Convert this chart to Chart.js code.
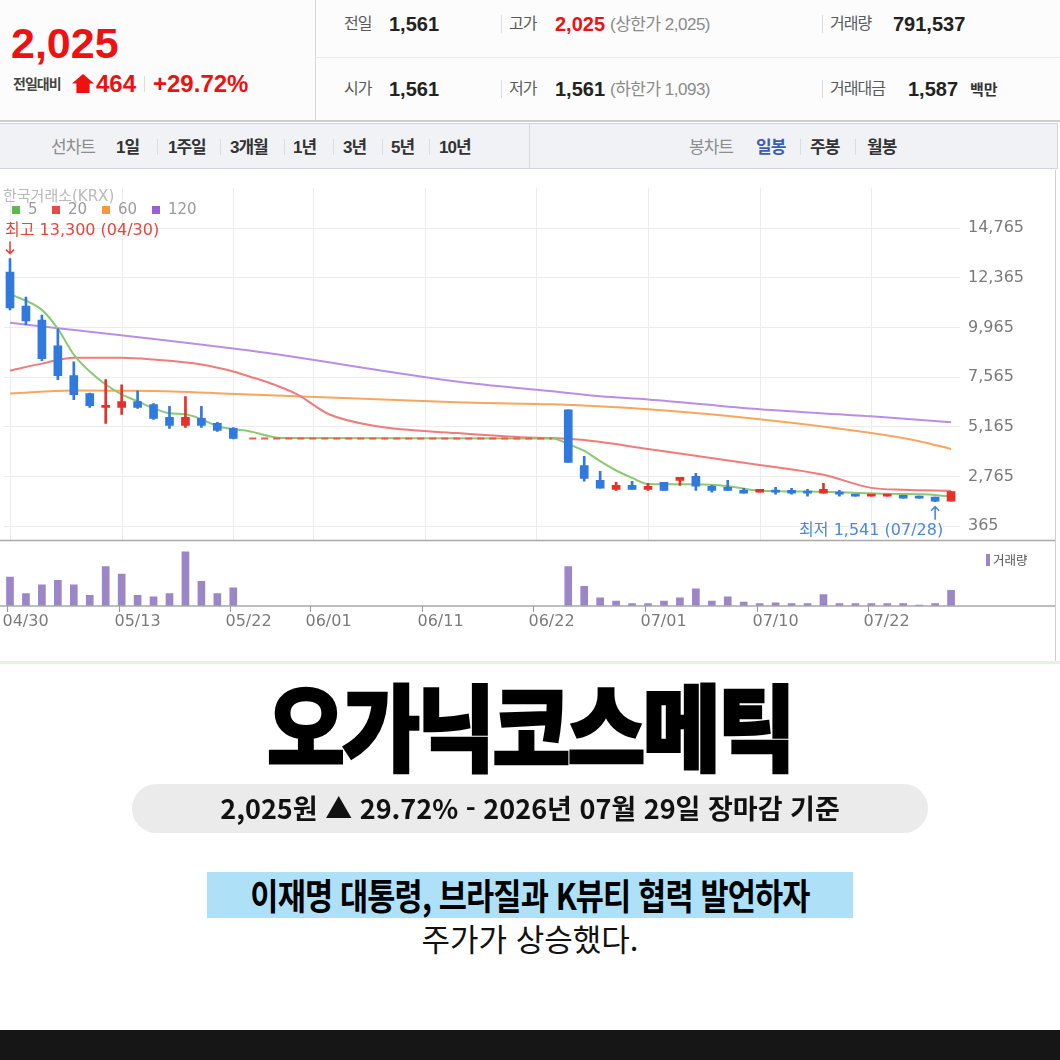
<!DOCTYPE html>
<html lang="ko">
<head>
<meta charset="utf-8">
<script src="https://cdn.jsdelivr.net/npm/chart.js@4.4.1/dist/chart.umd.min.js"></script>
<style>
  * { box-sizing: border-box; margin: 0; padding: 0; }
  body { width: 1060px; height: 1060px; background: #fff; position: relative; overflow: hidden;
         font-family: "Liberation Sans", "Noto Sans CJK KR", sans-serif; }
  .box { position: absolute; }
  .t { position: absolute; white-space: nowrap; line-height: 1; transform: translateY(-50%); }
  .lb { font-size: 16px; color: #5a5a5a; letter-spacing: -1px; }
  .num { font-size: 20px; font-weight: 700; color: #222; }
  .sub { font-size: 17px; color: #8a8a8a; letter-spacing: -0.5px; }
  .red { color: #ee1111; }
  .sep { position: absolute; width: 1px; background: #dcdcdc; }
  .tab { font-size: 17px; font-weight: 700; color: #333; letter-spacing: -1px; }
  .tabg { font-size: 17px; color: #8c8c8c; letter-spacing: -1px; }
  .kr { font-family: "Noto Sans CJK KR", sans-serif; }
</style>
</head>
<body>

<!-- price header -->
<div class="box" style="left:0;top:0;width:1060px;height:122px;background:#fcfcfc;border-bottom:2px solid #cdcdcd;"></div>
<div class="sep" style="left:315px;top:0;height:120px;background:#d8d8d8;"></div>
<div class="box" style="left:316px;top:57px;width:744px;height:1px;background:#ececec;"></div>

<div class="t red" style="left:11px;top:43px;font-size:43px;font-weight:700;">2,025</div>
<div class="t" style="left:13px;top:84px;font-size:14px;font-weight:700;color:#444;letter-spacing:-1px;">전일대비</div>
<div class="box" style="left:72px;top:74px;width:22px;height:19px;background:#ee1111;clip-path:polygon(50% 0,100% 50%,80% 50%,80% 100%,20% 100%,20% 50%,0 50%);"></div>
<div class="t red" style="left:96px;top:84px;font-size:24px;font-weight:700;">464</div>
<div class="sep" style="left:144px;top:76px;height:16px;"></div>
<div class="t red" style="left:153px;top:84px;font-size:24px;font-weight:700;">+29.72%</div>

<div class="t lb" style="left:344px;top:24px;">전일</div>
<div class="t num" style="left:389px;top:24px;">1,561</div>
<div class="sep" style="left:501px;top:15px;height:18px;"></div>
<div class="t lb" style="left:509px;top:24px;">고가</div>
<div class="t num red" style="left:555px;top:24px;">2,025</div>
<div class="t sub" style="left:610px;top:24px;">(상한가 2,025)</div>
<div class="sep" style="left:822px;top:15px;height:18px;"></div>
<div class="t lb" style="left:830px;top:24px;">거래량</div>
<div class="t num" style="left:893px;top:24px;">791,537</div>

<div class="t lb" style="left:344px;top:89px;">시가</div>
<div class="t num" style="left:389px;top:89px;">1,561</div>
<div class="sep" style="left:501px;top:80px;height:18px;"></div>
<div class="t lb" style="left:509px;top:89px;">저가</div>
<div class="t num" style="left:555px;top:89px;">1,561</div>
<div class="t sub" style="left:610px;top:89px;">(하한가 1,093)</div>
<div class="sep" style="left:822px;top:80px;height:18px;"></div>
<div class="t lb" style="left:830px;top:89px;">거래대금</div>
<div class="t num" style="left:908px;top:89px;">1,587</div>
<div class="t" style="left:970px;top:89px;font-size:15px;font-weight:700;color:#333;">백만</div>

<!-- period tabs -->
<div class="box" style="left:0;top:123px;width:1058px;height:46px;background:#f1f2f6;border:1px solid #d3d4da;border-left:none;"></div>
<div class="sep" style="left:529px;top:124px;height:44px;background:#d6d7dc;"></div>
<div class="t tabg" style="left:51px;top:147px;">선차트</div>
<div class="t tab" style="left:116px;top:147px;">1일</div>
<div class="sep" style="left:157px;top:139px;height:16px;"></div>
<div class="t tab" style="left:168px;top:147px;">1주일</div>
<div class="sep" style="left:220px;top:139px;height:16px;"></div>
<div class="t tab" style="left:230px;top:147px;">3개월</div>
<div class="sep" style="left:284px;top:139px;height:16px;"></div>
<div class="t tab" style="left:293px;top:147px;">1년</div>
<div class="sep" style="left:333px;top:139px;height:16px;"></div>
<div class="t tab" style="left:343px;top:147px;">3년</div>
<div class="sep" style="left:382px;top:139px;height:16px;"></div>
<div class="t tab" style="left:391px;top:147px;">5년</div>
<div class="sep" style="left:429px;top:139px;height:16px;"></div>
<div class="t tab" style="left:439px;top:147px;">10년</div>
<div class="t tabg" style="left:689px;top:147px;">봉차트</div>
<div class="t tab" style="left:756px;top:147px;color:#3d5db3;">일봉</div>
<div class="sep" style="left:800px;top:139px;height:16px;"></div>
<div class="t tab" style="left:810px;top:147px;">주봉</div>
<div class="sep" style="left:855px;top:139px;height:16px;"></div>
<div class="t tab" style="left:867px;top:147px;">월봉</div>

<!-- chart -->
<div class="box" style="left:0;top:170px;width:1060px;height:490px;">
  <canvas id="stockChart" width="1060" height="490"></canvas>
</div>
<div class="box" style="left:1055px;top:170px;width:1px;height:492px;background:#cfcfcf;"></div>
<div class="box" style="left:0;top:661px;width:1060px;height:3px;background:#e6f3e4;"></div>

<!-- caption -->
<div class="t kr" style="left:0;width:1060px;text-align:center;top:723px;font-size:94px;font-weight:900;color:#000;-webkit-text-stroke:2.5px #000;transform:translateY(-50%) scaleX(0.9);letter-spacing:-3px;">오가닉코스메틱</div>
<div class="box" style="left:132px;top:784px;width:796px;height:49px;border-radius:25px;background:#ebebeb;"></div>
<div class="t kr" style="left:0;width:1060px;text-align:center;top:807px;font-size:27px;font-weight:700;color:#111;">2,025원 ▲ 29.72% - 2026년 07월 29일 장마감 기준</div>
<div class="box" style="left:207px;top:872px;width:646px;height:46px;background:#aee0f8;"></div>
<div class="t kr" style="left:0;width:1060px;text-align:center;top:894px;font-size:36px;font-weight:700;color:#000;transform:translateY(-50%) scaleX(0.85);letter-spacing:-1px;">이재명 대통령, 브라질과 K뷰티 협력 발언하자</div>
<div class="t kr" style="left:0;width:1060px;text-align:center;top:937px;font-size:31px;font-weight:400;color:#111;">주가가 상승했다.</div>
<div class="box" style="left:0;top:1030px;width:1060px;height:30px;background:#161616;"></div>

<script>
// trading-day slots (x = slot index)
const dates = [
  "04/30", "05/04", "05/06", "05/07", "05/08", "05/11", "05/12", "05/13", "05/14", "05/15",
  "05/18", "05/19", "05/20", "05/21", "05/22", "05/26", "05/27", "05/28", "05/29", "06/01",
  "06/02", "06/04", "06/05", "06/08", "06/09", "06/10", "06/11", "06/12", "06/15", "06/16",
  "06/17", "06/18", "06/19", "06/22", "06/23", "06/24", "06/25", "06/26", "06/29", "06/30",
  "07/01", "07/02", "07/03", "07/06", "07/07", "07/08", "07/09", "07/10", "07/13", "07/14",
  "07/15", "07/16", "07/20", "07/21", "07/22", "07/23", "07/24", "07/27", "07/28", "07/29"
];
const tickIdx = [0, 7, 14, 19, 26, 33, 40, 47, 54];
const priceTicks = [365, 2765, 5165, 7565, 9965, 12365, 14765];

// days with trading (halt between 05/22 and 06/24)
const candleIdx = [
  0, 1, 2, 3, 4, 5, 6, 7, 8, 9, 10, 11, 12, 13, 14,
  35, 36, 37, 38, 39, 40, 41, 42, 43, 44, 45, 46, 47, 48, 49, 50, 51, 52, 53, 54, 55, 56, 57, 58, 59
];
const opens = [
  12650, 11000, 10330, 9080, 7640, 6770, 6100, 6100, 6380, 6240, 5620, 5230, 5570, 5330, 5090,
  5980, 3290, 2570, 2140, 2330, 2140, 2480, 2570, 2770, 2290, 2240, 2090, 2000, 2090, 2090,
  2050, 1950, 2000, 1900, 1810, 1810, 1850, 1810, 1760, 1561
];
const highs = [
  13300, 11440, 10570, 9900, 8310, 6800, 7450, 7200, 6910, 6290, 6150, 6630, 6150, 5380, 5130,
  5980, 3730, 3010, 2480, 2530, 2430, 2480, 2720, 2910, 2330, 2570, 2190, 2140, 2240, 2190,
  2140, 2430, 2090, 1900, 1900, 1900, 1850, 1810, 1760, 2025
];
const lows = [
  10820, 10100, 8360, 7450, 6480, 6100, 5330, 5760, 6050, 5520, 5090, 5130, 5130, 4940, 4580,
  3440, 2530, 2190, 2090, 2140, 2090, 2090, 2330, 2090, 2000, 2090, 1950, 2000, 1900, 1900,
  1810, 1950, 1810, 1810, 1810, 1810, 1710, 1710, 1541, 1561
];
const closes = [
  10910, 10290, 8460, 7640, 6720, 6190, 6150, 6380, 6100, 5570, 5230, 5620, 5230, 4990, 4603,
  3440, 2670, 2190, 2330, 2140, 2290, 2090, 2720, 2290, 2090, 2090, 1950, 2140, 2000, 1950,
  1950, 2140, 1900, 1810, 1900, 1900, 1710, 1710, 1561, 2025
];
const volumes = [
  1450000, 630000, 1070000, 1290000, 1070000, 540000, 1980000, 1600000, 540000, 460000,
  630000, 2720000, 1240000, 630000, 910000,
  1980000, 990000, 410000, 250000, 120000, 120000, 250000, 410000, 860000, 250000,
  460000, 200000, 120000, 160000, 120000, 120000, 580000, 120000, 120000, 120000,
  120000, 120000, 40000, 120000, 791537
];

// moving averages at these slots
const ma5Idx = [0, 2, 3, 4, 5, 6, 7, 8, 9, 10, 11, 12, 13, 14, 15, 17, 34, 35, 36, 37, 38, 39, 40, 42, 43, 45, 47, 51, 55, 58, 59];
const ma5 = [11590, 10820, 9900, 8660, 7840, 7210, 6730, 6400, 6060, 5820, 5770, 5530, 5190, 5050, 4950, 4620, 4603, 4330, 4000, 3500, 3050, 2690, 2400, 2380, 2380, 2290, 2070, 2020, 1920, 1870, 1780];
const ma20Idx = [0, 2, 4, 7, 9, 12, 14, 15, 16, 18, 20, 23, 28, 32, 34, 36, 40, 47, 51, 54, 56, 59];
const ma20 = [7890, 8220, 8510, 8510, 8420, 8180, 7840, 7600, 7360, 6730, 5770, 5190, 4860, 4660, 4620, 4520, 4090, 3320, 2840, 2210, 2120, 2070];
const ma60Idx = [0, 4, 9, 15, 28, 34, 40, 47, 54, 57, 59];
const ma60 = [6780, 6920, 6900, 6730, 6350, 6250, 6010, 5530, 4860, 4470, 4090];
const ma120Idx = [0, 15, 28, 34, 37, 40, 47, 54, 59];
const ma120 = [10200, 8850, 7360, 6880, 6640, 6490, 6010, 5670, 5390];
const haltIdx = [15, 34];
const haltPrice = [4603, 4603];

const upColor = "#e4322b";
const downColor = "#2f79df";
const candleColor = candleIdx.map((x, i) => (closes[i] >= opens[i] ? upColor : downColor));
const pts = (xs, ys) => xs.map((x, i) => ({ x, y: ys[i] }));
const fmt = (v) => v.toLocaleString("en-US");

const maLine = (label, xs, ys, color) => ({
  type: "line",
  label,
  data: pts(xs, ys),
  borderColor: color,
  borderWidth: 2,
  pointRadius: 0,
  cubicInterpolationMode: "monotone",
  yAxisID: "y",
  order: 2
});

const overlay = {
  id: "overlay",
  beforeDatasetsDraw(chart) {
    const { ctx, chartArea, scales } = chart;
    ctx.save();
    ctx.strokeStyle = "#ececec";
    ctx.lineWidth = 1;
    tickIdx.forEach((i) => {
      const px = Math.round(scales.x.getPixelForValue(i)) + 0.5;
      ctx.beginPath();
      ctx.moveTo(px, chartArea.top);
      ctx.lineTo(px, scales.y.bottom);
      ctx.stroke();
    });
    ctx.restore();
  },
  afterDraw(chart) {
    const { ctx, scales } = chart;
    const { x, y, vol } = scales;
    ctx.save();

    // panel separators
    ctx.strokeStyle = "#a9a9a9";
    ctx.lineWidth = 1.5;
    [y.bottom, vol.bottom].forEach((py) => {
      ctx.beginPath();
      ctx.moveTo(0, py);
      ctx.lineTo(1055, py);
      ctx.stroke();
    });

    // date ticks
    ctx.strokeStyle = "#9a9a9a";
    ctx.lineWidth = 1;
    ctx.font = '16px "DejaVu Sans"';
    ctx.fillStyle = "#7b7b7b";
    ctx.textBaseline = "middle";
    ctx.textAlign = "left";
    tickIdx.forEach((i) => {
      const px = Math.round(x.getPixelForValue(i)) - 2.5;
      ctx.beginPath();
      ctx.moveTo(px, vol.bottom);
      ctx.lineTo(px, vol.bottom + 6);
      ctx.stroke();
      ctx.fillText(dates[i], px - 5, vol.bottom + 16);
    });

    // source + legend
    ctx.font = '15px "DejaVu Sans", "Noto Sans CJK KR"';
    ctx.fillStyle = "#b9b9b9";
    ctx.fillText("한국거래소(KRX)", 3, 27);
    const legend = [["5", "#5cb94c", 12], ["20", "#e84a4a", 52], ["60", "#f59a3c", 102], ["120", "#9b5fd3", 152]];
    legend.forEach(([txt, col, lx]) => {
      ctx.fillStyle = col;
      ctx.fillRect(lx, 36, 8, 8);
      ctx.fillStyle = "#9a9a9a";
      ctx.fillText(txt, lx + 16, 40);
    });

    // highest / lowest marks
    const hi = highs.indexOf(Math.max(...highs));
    const lo = lows.indexOf(Math.min(...lows));
    const hx = x.getPixelForValue(candleIdx[hi]);
    const hy = y.getPixelForValue(highs[hi]);
    const lx = x.getPixelForValue(candleIdx[lo]);
    const ly = y.getPixelForValue(lows[lo]);
    ctx.font = '16px "DejaVu Sans", "Noto Sans CJK KR"';
    ctx.lineWidth = 1.6;

    ctx.fillStyle = "#e8453c";
    ctx.strokeStyle = "#e8453c";
    ctx.textAlign = "left";
    ctx.fillText(`최고 ${fmt(highs[hi])} (${dates[candleIdx[hi]]})`, hx - 5, hy - 28);
    ctx.beginPath();
    ctx.moveTo(hx, hy - 17);
    ctx.lineTo(hx, hy - 5);
    ctx.moveTo(hx - 4, hy - 9);
    ctx.lineTo(hx, hy - 5);
    ctx.lineTo(hx + 4, hy - 9);
    ctx.stroke();

    ctx.fillStyle = "#4a88d8";
    ctx.strokeStyle = "#4a88d8";
    ctx.textAlign = "right";
    ctx.fillText(`최저 ${fmt(lows[lo])} (${dates[candleIdx[lo]]})`, lx + 8, ly + 29);
    ctx.beginPath();
    ctx.moveTo(lx, ly + 18);
    ctx.lineTo(lx, ly + 5);
    ctx.moveTo(lx - 4, ly + 9);
    ctx.lineTo(lx, ly + 5);
    ctx.lineTo(lx + 4, ly + 9);
    ctx.stroke();

    // volume legend
    ctx.fillStyle = "#9b86c8";
    ctx.fillRect(986, 384, 4, 12);
    ctx.font = '12.5px "Noto Sans CJK KR"';
    ctx.fillStyle = "#555";
    ctx.textAlign = "left";
    ctx.fillText("거래량", 993, 390);

    ctx.restore();
  }
};

new Chart(document.getElementById("stockChart"), {
  type: "bar",
  data: {
    datasets: [
      {
        type: "bar",
        label: "body",
        data: candleIdx.map((x, i) => ({ x, y: [opens[i], closes[i]] })),
        backgroundColor: candleColor,
        barThickness: 8,
        minBarLength: 2,
        grouped: false,
        yAxisID: "y",
        order: 0
      },
      {
        type: "bar",
        label: "wick",
        data: candleIdx.map((x, i) => ({ x, y: [lows[i], highs[i]] })),
        backgroundColor: candleColor,
        barThickness: 2,
        grouped: false,
        yAxisID: "y",
        order: 1
      },
      {
        type: "bar",
        label: "volume",
        data: candleIdx.map((x, i) => ({ x, y: volumes[i] })),
        backgroundColor: "#9b86c8",
        barThickness: 7,
        grouped: false,
        yAxisID: "vol",
        order: 0
      },
      {
        type: "line",
        label: "halt",
        data: pts(haltIdx, haltPrice),
        borderColor: "#ec5a4f",
        borderWidth: 2,
        borderDash: [7, 5],
        pointRadius: 0,
        yAxisID: "y",
        order: 2
      },
      maLine("5", ma5Idx, ma5, "#8acb72"),
      maLine("20", ma20Idx, ma20, "#f07b7b"),
      maLine("60", ma60Idx, ma60, "#f8a65e"),
      maLine("120", ma120Idx, ma120, "#bb8ee6")
    ]
  },
  options: {
    responsive: false,
    animation: false,
    devicePixelRatio: 1,
    layout: { padding: { top: 15, left: 4, right: 5, bottom: 0 } },
    plugins: { legend: { display: false }, tooltip: { enabled: false } },
    scales: {
      x: {
        type: "linear",
        min: -0.376,
        max: 59.56,
        offset: false,
        grid: { display: false },
        border: { display: false },
        ticks: { display: false },
        afterFit: (s) => { s.height = 54; }
      },
      y: {
        type: "linear",
        position: "right",
        stack: "main",
        stackWeight: 355,
        min: -332,
        max: 16736,
        afterBuildTicks: (s) => { s.ticks = priceTicks.map((v) => ({ value: v })); },
        ticks: {
          callback: (v) => fmt(v),
          color: "#7a7a7a",
          font: { family: "DejaVu Sans", size: 16 },
          padding: 8
        },
        grid: { color: "#ececec", drawTicks: false },
        border: { display: false },
        afterFit: (s) => { s.width = 95; }
      },
      vol: {
        type: "linear",
        position: "right",
        stack: "main",
        stackWeight: 66,
        min: 0,
        max: 3300000,
        ticks: { display: false },
        grid: { display: false },
        border: { display: false },
        afterFit: (s) => { s.width = 95; }
      }
    }
  },
  plugins: [overlay]
});
</script>
</body>
</html>
